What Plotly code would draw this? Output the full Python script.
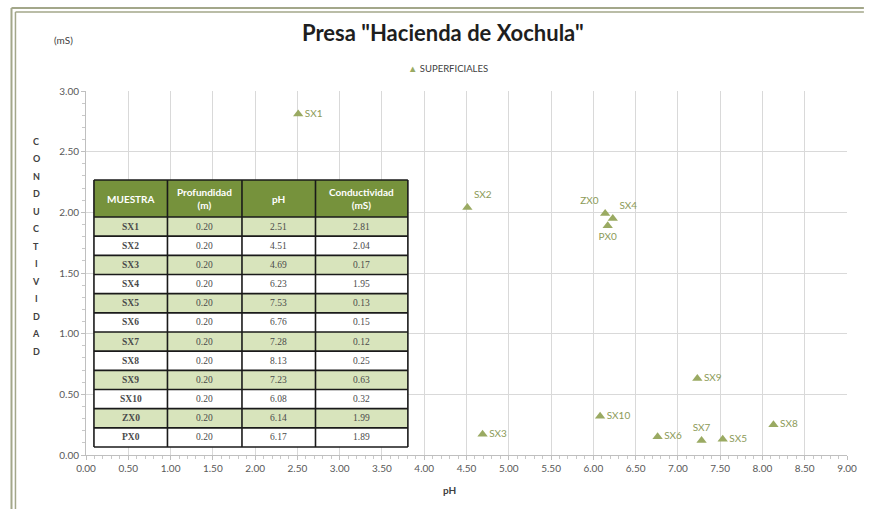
import plotly.graph_objects as go

muestra = ["SX1", "SX2", "SX3", "SX4", "SX5", "SX6", "SX7", "SX8", "SX9", "SX10", "ZX0", "PX0"]
profundidad = [0.20] * 12
ph = [2.51, 4.51, 4.69, 6.23, 7.53, 6.76, 7.28, 8.13, 7.23, 6.08, 6.14, 6.17]
conductividad = [2.81, 2.04, 0.17, 1.95, 0.13, 0.15, 0.12, 0.25, 0.63, 0.32, 1.99, 1.89]
label_pos = ["middle right", "top right", "middle right", "top right", "middle right", "middle right",
             "top center", "middle right", "middle right", "middle right", "top left", "bottom center"]
table_header = ["MUESTRA", "Profundidad<br>(m)", "pH", "Conductividad<br>(mS)"]
y_title_letters = list("CONDUCTIVIDAD")

W, H = 869, 509
L, R, T, B = 86, 17, 91, 54
PW, PH = W - L - R, H - T - B


def px(x):
    return (x - L) / PW


def py(y):
    return (H - B - y) / PH


OLIVE = "#9AAA62"
OLIVE_TXT = "#8C9A58"

fig = go.Figure()

fig.add_trace(go.Scatter(
    x=ph, y=conductividad, mode="markers+text",
    text=muestra, textposition=label_pos,
    marker=dict(symbol="triangle-up", size=9, color=OLIVE),
    textfont=dict(family="Lato", size=10, color=OLIVE_TXT),
    showlegend=False, cliponaxis=False, hoverinfo="skip",
))

annotations = [
    dict(text="<b>Presa \"Hacienda de Xochula\"</b>", x=px(445), y=py(33)),
    dict(text="(mS)", x=px(63), y=py(40)),
    dict(text=f"<span style='color:{OLIVE}'>▲</span> SUPERFICIALES", x=px(450), y=py(68)),
    dict(text="<b>pH</b>", x=px(452), y=py(490)),
]
annotations[0]["font"] = dict(family="Lato", size=22, color="#1E1E1E")
annotations[1]["font"] = dict(family="Lato", size=10, color="#404040")
annotations[2]["font"] = dict(family="Lato", size=9.5, color="#404040")
annotations[3]["font"] = dict(family="Lato", size=10, color="#404040")

for i, ch in enumerate(y_title_letters):
    annotations.append(dict(text=f"<b>{ch}</b>", x=px(36), y=py(141 + 17.5 * i),
                            font=dict(family="Lato", size=9, color="#404040")))

# ---- table drawn with shapes + text ----
col_x = [94, 168, 243, 317, 410]
hdr_top, hdr_bot, tbl_bot = 180, 217, 447
n = len(muestra)
row_h = (tbl_bot - hdr_bot) / n
shapes = []
shapes.append(dict(type="rect", layer="above", xref="paper", yref="paper",
                   x0=px(col_x[0]), x1=px(col_x[-1]), y0=py(hdr_bot), y1=py(hdr_top),
                   fillcolor="#76923C", line=dict(width=0)))
for i in range(n):
    y0 = hdr_bot + i * row_h
    shapes.append(dict(type="rect", layer="above", xref="paper", yref="paper",
                       x0=px(col_x[0]), x1=px(col_x[-1]), y0=py(y0 + row_h), y1=py(y0),
                       fillcolor="#D8E4BC" if i % 2 == 0 else "#FFFFFF", line=dict(width=0)))
line_c = dict(color="#1A1A1A", width=1.6)
for i in range(n + 1):
    yy = hdr_bot + i * row_h
    shapes.append(dict(type="line", layer="above", xref="paper", yref="paper",
                       x0=px(col_x[0]), x1=px(col_x[-1]), y0=py(yy), y1=py(yy), line=line_c))
shapes.append(dict(type="line", layer="above", xref="paper", yref="paper",
                   x0=px(col_x[0]), x1=px(col_x[-1]), y0=py(hdr_top), y1=py(hdr_top), line=line_c))
for xx in col_x:
    shapes.append(dict(type="line", layer="above", xref="paper", yref="paper",
                       x0=px(xx), x1=px(xx), y0=py(tbl_bot), y1=py(hdr_top), line=line_c))

for j, h in enumerate(table_header):
    annotations.append(dict(text=f"<b>{h}</b>", x=px((col_x[j] + col_x[j + 1]) / 2),
                            y=py((hdr_top + hdr_bot) / 2),
                            font=dict(family="Lato", size=10, color="white")))
columns = [[f"<b>{m}</b>" for m in muestra],
           [f"{v:.2f}" for v in profundidad],
           [f"{v:.2f}" for v in ph],
           [f"{v:.2f}" for v in conductividad]]
for j, col in enumerate(columns):
    for i, val in enumerate(col):
        annotations.append(dict(text=val, x=px((col_x[j] + col_x[j + 1]) / 2),
                                y=py(hdr_bot + (i + 0.5) * row_h),
                                font=dict(family="Liberation Serif", size=9.5, color="#4A4A4A")))

for a in annotations:
    a.update(xref="paper", yref="paper", showarrow=False, xanchor="center", yanchor="middle")

frame = "#A3A78A"
shapes += [
    dict(type="line", xref="paper", yref="paper", x0=px(11), x1=px(11), y0=py(8), y1=py(H), line=dict(color=frame, width=2)),
    dict(type="line", xref="paper", yref="paper", x0=px(15), x1=px(15), y0=py(12), y1=py(H), line=dict(color=frame, width=1.5)),
    dict(type="line", xref="paper", yref="paper", x0=px(11), x1=px(W), y0=py(8), y1=py(8), line=dict(color=frame, width=2)),
    dict(type="line", xref="paper", yref="paper", x0=px(15), x1=px(W), y0=py(12), y1=py(12), line=dict(color=frame, width=1.5)),
]

axis_common = dict(
    showgrid=True, gridcolor="#D9D9D9", gridwidth=1,
    showline=True, linecolor="#BFBFBF", linewidth=1,
    ticks="outside", ticklen=4, tickcolor="#BFBFBF",
    tickformat=".2f", zeroline=False,
    tickfont=dict(family="Lato", size=10, color="#595959"),
    minor=dict(dtick=0.1, ticks="outside", ticklen=3, tickcolor="#C8C8C8", showgrid=False),
)

fig.update_layout(
    width=W, height=H,
    margin=dict(l=L, r=R, t=T, b=B),
    paper_bgcolor="white", plot_bgcolor="white",
    xaxis=dict(range=[0, 9], dtick=0.5, tick0=0, **axis_common),
    yaxis=dict(range=[0, 3], dtick=0.5, tick0=0, **axis_common),
    annotations=annotations, shapes=shapes, showlegend=False,
)

fig.write_html("out.html", config={"displayModeBar": False},
               post_script="document.body.style.margin='0';document.body.style.overflow='hidden';")
